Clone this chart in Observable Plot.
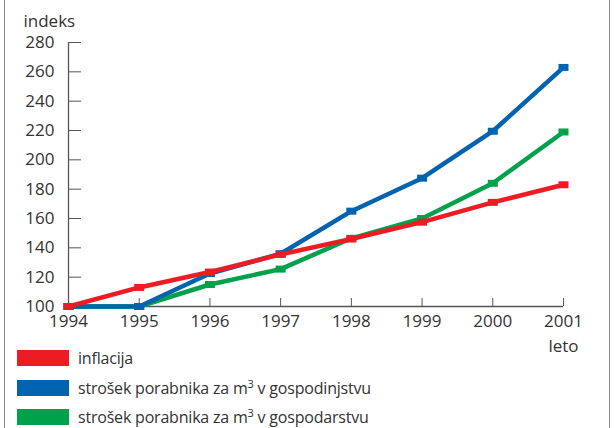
<!DOCTYPE html>
<html>
<head>
<meta charset="utf-8">
<script src="https://cdn.jsdelivr.net/npm/d3@7"></script>
<script src="https://cdn.jsdelivr.net/npm/@observablehq/plot@0.6"></script>
<style>
  body { margin: 0; background: #fff; font-family: "Open Sans", sans-serif; color: #333; }
  #wrap { position: relative; width: 614px; height: 428px; overflow: hidden; }
  .vline { position: absolute; top: 0; bottom: 0; width: 1px; background: #8a8a8a; }
  #legend { position: absolute; left: 0; top: 350px; width: 614px; }
  .row { position: absolute; left: 17px; height: 16px; display: flex; align-items: center; font-size: 16px; letter-spacing: -0.2px; color: #333; white-space: nowrap; }
  .sw { width: 52px; height: 16px; margin-right: 9px; flex: none; }
  sup { font-size: 11px; vertical-align: 6px; line-height: 0; }
</style>
</head>
<body>
<div id="wrap">
  <div class="vline" style="left:4px"></div>
  <div class="vline" style="left:609px"></div>
  <div id="chart"></div>
  <div id="legend"></div>
</div>
<script>
const years = [1994, 1995, 1996, 1997, 1998, 1999, 2000, 2001];
const inflacija = [100, 113, 123.5, 135.5, 146, 157.5, 171, 183];
const gospodinjstvo = [100, 100, 122.5, 136, 165, 187.5, 219.5, 263];
const gospodarstvo = [100, 100, 115, 125.5, 146.5, 160, 184, 219];
const yTicks = [100, 120, 140, 160, 180, 200, 220, 240, 260, 280];
const seriesNames = ["inflacija", "strošek porabnika za m³ v gospodinjstvu", "strošek porabnika za m³ v gospodarstvu"];
const seriesValues = [inflacija, gospodinjstvo, gospodarstvo];
const seriesColors = ["#ed1c24", "#0063af", "#00a14b"];
const drawOrder = [2, 1, 0];
const yLabel = "indeks";
const xLabel = "leto";

const rows = seriesValues.map((vals, s) => years.map((yr, i) => ({year: yr, value: vals[i], series: s})));

const squareSymbol = {
  draw(context) {
    context.rect(-5, -3.5, 10, 7);
  }
};

const marks = [
  Plot.ruleX([years[0]], {stroke: "#555", strokeWidth: 1.3}),
  Plot.ruleY([yTicks[0]], {stroke: "#555", strokeWidth: 1.3}),
  Plot.axisY({ticks: yTicks, tickSize: 13, dx: 13, tickFormat: () => "", stroke: "#555", label: null}),
  Plot.axisY({ticks: yTicks, tickSize: 0, tickPadding: 14, label: null, fill: "#333"}),
  Plot.axisX({ticks: years, tickSize: 8, dy: -8, tickFormat: () => "", stroke: "#555", label: null}),
  Plot.axisX({ticks: years, tickSize: 0, tickPadding: 8, tickFormat: d => String(d), label: null, fill: "#333"}),
  Plot.text([yLabel], {frameAnchor: "top-left", dx: -45, dy: -16, textAnchor: "start", lineAnchor: "bottom", fill: "#333"}),
  Plot.text([xLabel], {frameAnchor: "bottom-right", dy: 45, textAnchor: "middle", lineAnchor: "bottom", fill: "#333"})
];

for (const s of drawOrder) {
  marks.push(Plot.line(rows[s], {x: "year", y: "value", stroke: seriesColors[s], strokeWidth: 4.5, strokeLinejoin: "round"}));
  marks.push(Plot.dot(rows[s], {x: "year", y: "value", fill: seriesColors[s], symbol: squareSymbol, r: 3}));
}

const chart = Plot.plot({
  width: 614,
  height: 350,
  marginLeft: 68,
  marginRight: 51,
  marginTop: 42,
  marginBottom: 44,
  style: {fontFamily: "'Open Sans', sans-serif", fontSize: "17px", color: "#333", background: "transparent", overflow: "visible"},
  x: {domain: [years[0], years[years.length - 1]], label: null},
  y: {domain: [yTicks[0], yTicks[yTicks.length - 1]], label: null},
  marks
});
document.getElementById("chart").appendChild(chart);

const legend = document.getElementById("legend");
const rowTops = [0, 30, 59];
seriesNames.forEach((name, i) => {
  const row = document.createElement("div");
  row.className = "row";
  row.style.top = rowTops[i] + "px";
  const sw = document.createElement("div");
  sw.className = "sw";
  sw.style.background = seriesColors[i];
  const label = document.createElement("span");
  label.innerHTML = name.replace("m³", "m<sup>3</sup>");
  row.appendChild(sw);
  row.appendChild(label);
  legend.appendChild(row);
});
</script>
</body>
</html>
